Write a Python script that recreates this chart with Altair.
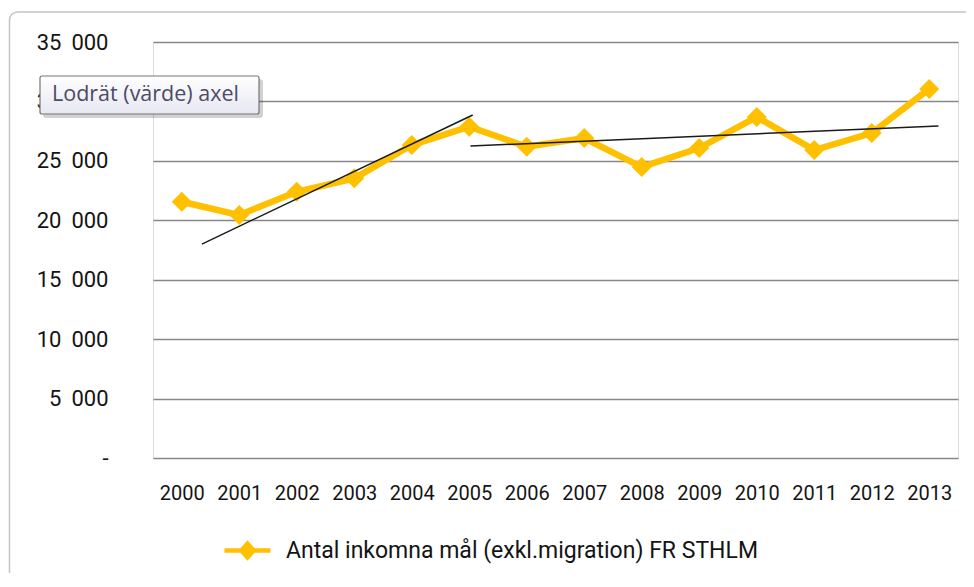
import altair as alt
import pandas as pd

# ---- data ----
years = list(range(2000, 2014))
values = [21560, 20440, 22400, 23530, 26330, 27870, 26190,
          26920, 24480, 26080, 28690, 25910, 27340, 31050]
series_name = "Antal inkomna mål (exkl.migration) FR STHLM"

# two hand-drawn trend lines (start/end points)
trend_group = ["A", "A", "B", "B"]
trend_x = [2000.35, 2005.06, 2005.02, 2013.16]
trend_y = [18000, 28860, 26250, 27930]

y_ticks = [0, 5000, 10000, 15000, 20000, 25000, 30000, 35000]
tooltip_text = "Lodrät (värde) axel"

df = pd.DataFrame({"year": years, "value": values, "series": [series_name] * len(years)})
tdf = pd.DataFrame({"g": trend_group, "x": trend_x, "y": trend_y})
one = pd.DataFrame({"t": [tooltip_text]})

ORANGE = "#FFC000"
TXT = "#141414"

x_scale = alt.Scale(domain=[1999.5, 2013.5], nice=False, zero=False)
y_scale = alt.Scale(domain=[0, 35000], nice=False)

y_label_expr = ("datum.value == 0 ? '-\u00a0\u00a0\u00a0\u00a0' : "
                "replace(format(datum.value, ','), ',', '\u00a0\u2009')")

x_axis = alt.Axis(values=years, format="d", title=None, grid=False, domain=False,
                  ticks=False, labelPadding=25, labelFont="Roboto", labelFontSize=20,
                  labelColor=TXT, labelFlush=False, labelOverlap=False)
y_axis = alt.Axis(values=y_ticks, title=None, grid=True, gridColor="#888888",
                  gridWidth=1.4, domain=False, ticks=False, labelPadding=45,
                  labelFont="Roboto", labelFontSize=22, labelColor=TXT,
                  labelExpr=y_label_expr)

legend = alt.Legend(
    title=None, orient="none", legendX=69, legendY=483, padding=0,
    symbolType="M-1,0L1,0M-0.27,0L0,-0.3L0.27,0L0,0.3Z",
    symbolSize=2116, symbolStrokeWidth=4.5,
    symbolFillColor=ORANGE, symbolStrokeColor=ORANGE, symbolOpacity=1,
    labelFont="Roboto", labelFontSize=23, labelColor=TXT, labelOffset=13,
    labelLimit=700,
)

base = alt.Chart(df)

line = base.mark_line(strokeWidth=6.5).encode(
    x=alt.X("year:Q", scale=x_scale, axis=x_axis),
    y=alt.Y("value:Q", scale=y_scale, axis=y_axis),
    color=alt.Color("series:N", scale=alt.Scale(domain=[series_name], range=[ORANGE]),
                    legend=legend),
)

points = base.mark_point(shape="diamond", filled=True, size=400, opacity=1,
                         color=ORANGE).encode(
    x=alt.X("year:Q", scale=x_scale),
    y=alt.Y("value:Q", scale=y_scale),
)

trend = alt.Chart(tdf).mark_line(color="#1a1a1a", strokeWidth=1.5).encode(
    x=alt.X("x:Q", scale=x_scale),
    y=alt.Y("y:Q", scale=y_scale),
    detail="g:N",
)

deco = alt.Chart(one)

border = deco.mark_rect(fillOpacity=0, stroke="#c4c4c4", strokeWidth=1.5,
                        cornerRadius=8).encode(
    x=alt.value(-143.5), x2=alt.value(900), y=alt.value(-30), y2=alt.value(600))

tip_shadow = deco.mark_rect(fill="#000000", opacity=0.18, cornerRadius=3).encode(
    x=alt.value(-110), x2=alt.value(110), y=alt.value(37), y2=alt.value(76))

tip_box = deco.mark_rect(
    fill=alt.Gradient(gradient="linear", x1=0, x2=0, y1=0, y2=1,
                      stops=[alt.GradientStop(color="#ffffff", offset=0),
                             alt.GradientStop(color="#e6e7f1", offset=1)]),
    stroke="#767676", strokeWidth=1.2, cornerRadius=2,
).encode(x=alt.value(-113), x2=alt.value(106), y=alt.value(34), y2=alt.value(72))

tip_text = deco.mark_text(align="left", baseline="middle", font="Open Sans",
                          fontSize=21.5, color="#4e4a64").encode(
    x=alt.value(-101), y=alt.value(53), text="t:N")

chart = alt.layer(border, line, points, trend, tip_shadow, tip_box, tip_text).properties(
    width=805, height=416,
    autosize=alt.AutoSizeParams(type="none"),
    padding={"left": 145, "top": 34, "right": 8, "bottom": 115},
).configure_view(stroke=None).configure(background="white")

chart.save("out.html", embed_options={"renderer": "svg", "actions": False})
